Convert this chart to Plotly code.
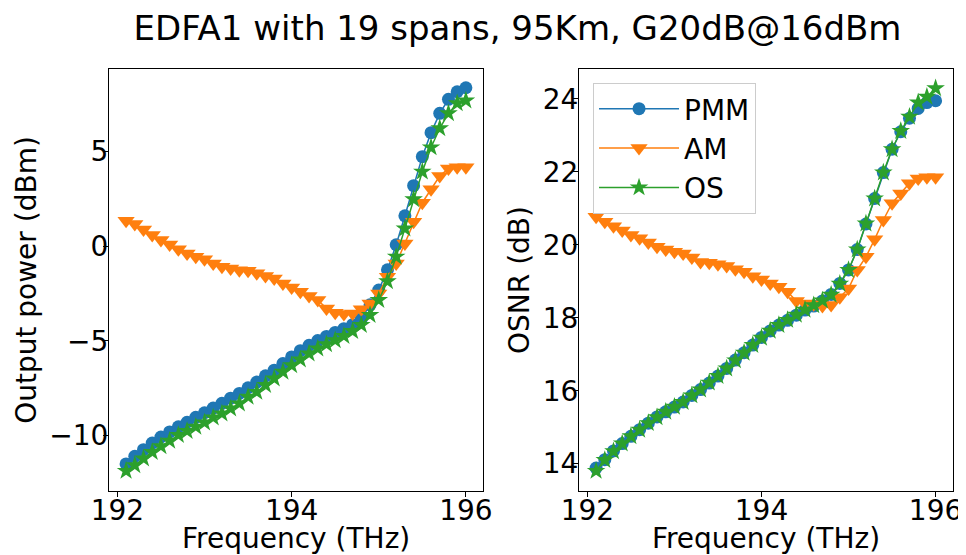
import plotly.graph_objects as go

freq_thz = [192.1, 192.2, 192.3, 192.4, 192.5, 192.6, 192.7, 192.8, 192.9, 193.0,
            193.1, 193.2, 193.3, 193.4, 193.5, 193.6, 193.7, 193.8, 193.9, 194.0,
            194.1, 194.2, 194.3, 194.4, 194.5, 194.6, 194.7, 194.8, 194.9, 195.0,
            195.1, 195.2, 195.3, 195.4, 195.5, 195.6, 195.7, 195.8, 195.9, 196.0]

pmm_power = [-11.50, -11.10, -10.75, -10.40, -10.08, -9.81, -9.54, -9.30, -9.04, -8.80,
             -8.55, -8.30, -8.03, -7.78, -7.48, -7.18, -6.85, -6.55, -6.20, -5.85,
             -5.52, -5.24, -4.99, -4.77, -4.56, -4.36, -4.15, -3.85, -3.10, -2.32,
             -1.25, 0.07, 1.60, 3.19, 4.72, 5.99, 7.01, 7.75, 8.15, 8.36]
am_power = [1.34, 1.16, 0.88, 0.58, 0.32, 0.09, -0.17, -0.39, -0.56, -0.70,
            -0.92, -1.09, -1.18, -1.27, -1.30, -1.44, -1.58, -1.71, -1.97, -2.18,
            -2.41, -2.64, -2.85, -3.29, -3.52, -3.59, -3.56, -3.34, -3.03, -2.50,
            -1.62, -0.92, 0.14, 1.28, 2.29, 3.00, 3.70, 4.10, 4.16, 4.16]
os_power = [-11.87, -11.57, -11.22, -10.87, -10.57, -10.28, -9.98, -9.76, -9.54, -9.32,
            -9.05, -8.84, -8.58, -8.31, -7.96, -7.70, -7.34, -6.99, -6.64, -6.29,
            -5.99, -5.67, -5.41, -5.18, -4.97, -4.75, -4.49, -4.17, -3.64, -2.85,
            -1.86, -0.56, 0.93, 2.47, 3.93, 5.21, 6.22, 7.01, 7.54, 7.68]

pmm_osnr = [13.88, 14.11, 14.35, 14.55, 14.75, 14.93, 15.11, 15.28, 15.42, 15.55,
            15.69, 15.87, 16.03, 16.21, 16.40, 16.61, 16.84, 17.04, 17.25, 17.46,
            17.64, 17.80, 17.93, 18.07, 18.21, 18.32, 18.46, 18.64, 18.94, 19.31,
            19.87, 20.57, 21.27, 21.98, 22.62, 23.10, 23.47, 23.74, 23.90, 23.95]
am_osnr = [20.77, 20.63, 20.51, 20.39, 20.27, 20.18, 20.06, 19.95, 19.87, 19.81,
           19.76, 19.65, 19.53, 19.51, 19.47, 19.42, 19.33, 19.26, 19.14, 19.05,
           18.94, 18.85, 18.71, 18.46, 18.39, 18.37, 18.32, 18.35, 18.56, 18.80,
           19.31, 19.67, 20.15, 20.68, 21.14, 21.41, 21.69, 21.82, 21.85, 21.85]
os_osnr = [13.80, 14.10, 14.34, 14.55, 14.75, 14.93, 15.11, 15.27, 15.42, 15.56,
           15.69, 15.87, 16.03, 16.22, 16.40, 16.61, 16.83, 17.04, 17.25, 17.45,
           17.64, 17.80, 17.94, 18.08, 18.22, 18.34, 18.47, 18.63, 18.93, 19.31,
           19.87, 20.58, 21.27, 21.98, 22.62, 23.12, 23.51, 23.90, 24.06, 24.29]

series_names = ["PMM", "AM", "OS"]
colors = ["#1f77b4", "#ff7f0e", "#2ca02c"]
symbols = ["circle", "triangle-down", "star"]
sizes = [13, 15, 14]

FONT = "DejaVu Sans"

fig = go.Figure()

left = [pmm_power, am_power, os_power]
right = [pmm_osnr, am_osnr, os_osnr]
for k in range(3):
    fig.add_trace(go.Scatter(
        x=freq_thz, y=left[k], mode="lines+markers", name=series_names[k],
        line=dict(color=colors[k], width=1.5),
        marker=dict(symbol=symbols[k], size=sizes[k], color=colors[k]),
        xaxis="x", yaxis="y", showlegend=False))
for k in range(3):
    fig.add_trace(go.Scatter(
        x=freq_thz, y=right[k], mode="lines+markers", name=series_names[k],
        line=dict(color=colors[k], width=1.5),
        marker=dict(symbol=symbols[k], size=sizes[k], color=colors[k]),
        xaxis="x2", yaxis="y2", showlegend=True))

axis_common = dict(showline=True, mirror=True, linecolor="black", linewidth=1,
                   ticks="outside", ticklen=5, tickwidth=1, tickcolor="black",
                   showgrid=False, zeroline=False, automargin=False,
                   tickfont=dict(family=FONT, size=28, color="black"))

# page body adds an 8px offset; figure sized 958x547 so it fits the window.
# plot area (screen): x 109..953, y 69..491 -> figure: x 101..945, y 61..483
fig.update_layout(
    width=958, height=547,
    margin=dict(l=101, r=13, t=61, b=64),
    paper_bgcolor="white", plot_bgcolor="white",
    font=dict(family=FONT, size=28, color="black"),
    title=dict(text="EDFA1 with 19 spans, 95Km, G20dB@16dBm",
               xref="container", yref="container",
               x=0.5318, xanchor="center", y=0.9634, yanchor="middle",
               font=dict(family=FONT, size=34, color="black")),
    xaxis=dict(domain=[0.0, 0.4435], range=[191.904, 196.2],
               tickvals=[192, 194, 196], anchor="y", ticklabelstandoff=-11,
               title=dict(text="Frequency (THz)", standoff=3,
                          font=dict(family=FONT, size=28)),
               **axis_common),
    yaxis=dict(domain=[0.0, 1.0], range=[-12.93, 9.35],
               tickvals=[-10, -5, 0, 5], anchor="x", ticklabelstandoff=-11,
               title=dict(text="Output power (dBm)", standoff=4,
                          font=dict(family=FONT, size=28)),
               **axis_common),
    xaxis2=dict(domain=[0.5569, 1.0], range=[191.904, 196.2],
                tickvals=[192, 194, 196], anchor="y2", ticklabelstandoff=-11,
                title=dict(text="Frequency (THz)", standoff=3,
                           font=dict(family=FONT, size=28)),
                **axis_common),
    yaxis2=dict(domain=[0.0, 1.0], range=[13.25, 24.82],
                tickvals=[14, 16, 18, 20, 22, 24], anchor="x2", ticklabelstandoff=-11,
                title=dict(text="OSNR (dB)", standoff=4,
                           font=dict(family=FONT, size=28)),
                **axis_common),
    legend=dict(x=0.5735, y=0.967, xanchor="left", yanchor="top",
                bgcolor="rgba(255,255,255,0.8)", bordercolor="#cccccc",
                borderwidth=1, font=dict(family=FONT, size=28, color="black"),
                itemwidth=80, tracegroupgap=4),
)

fig.write_html("out.html")
